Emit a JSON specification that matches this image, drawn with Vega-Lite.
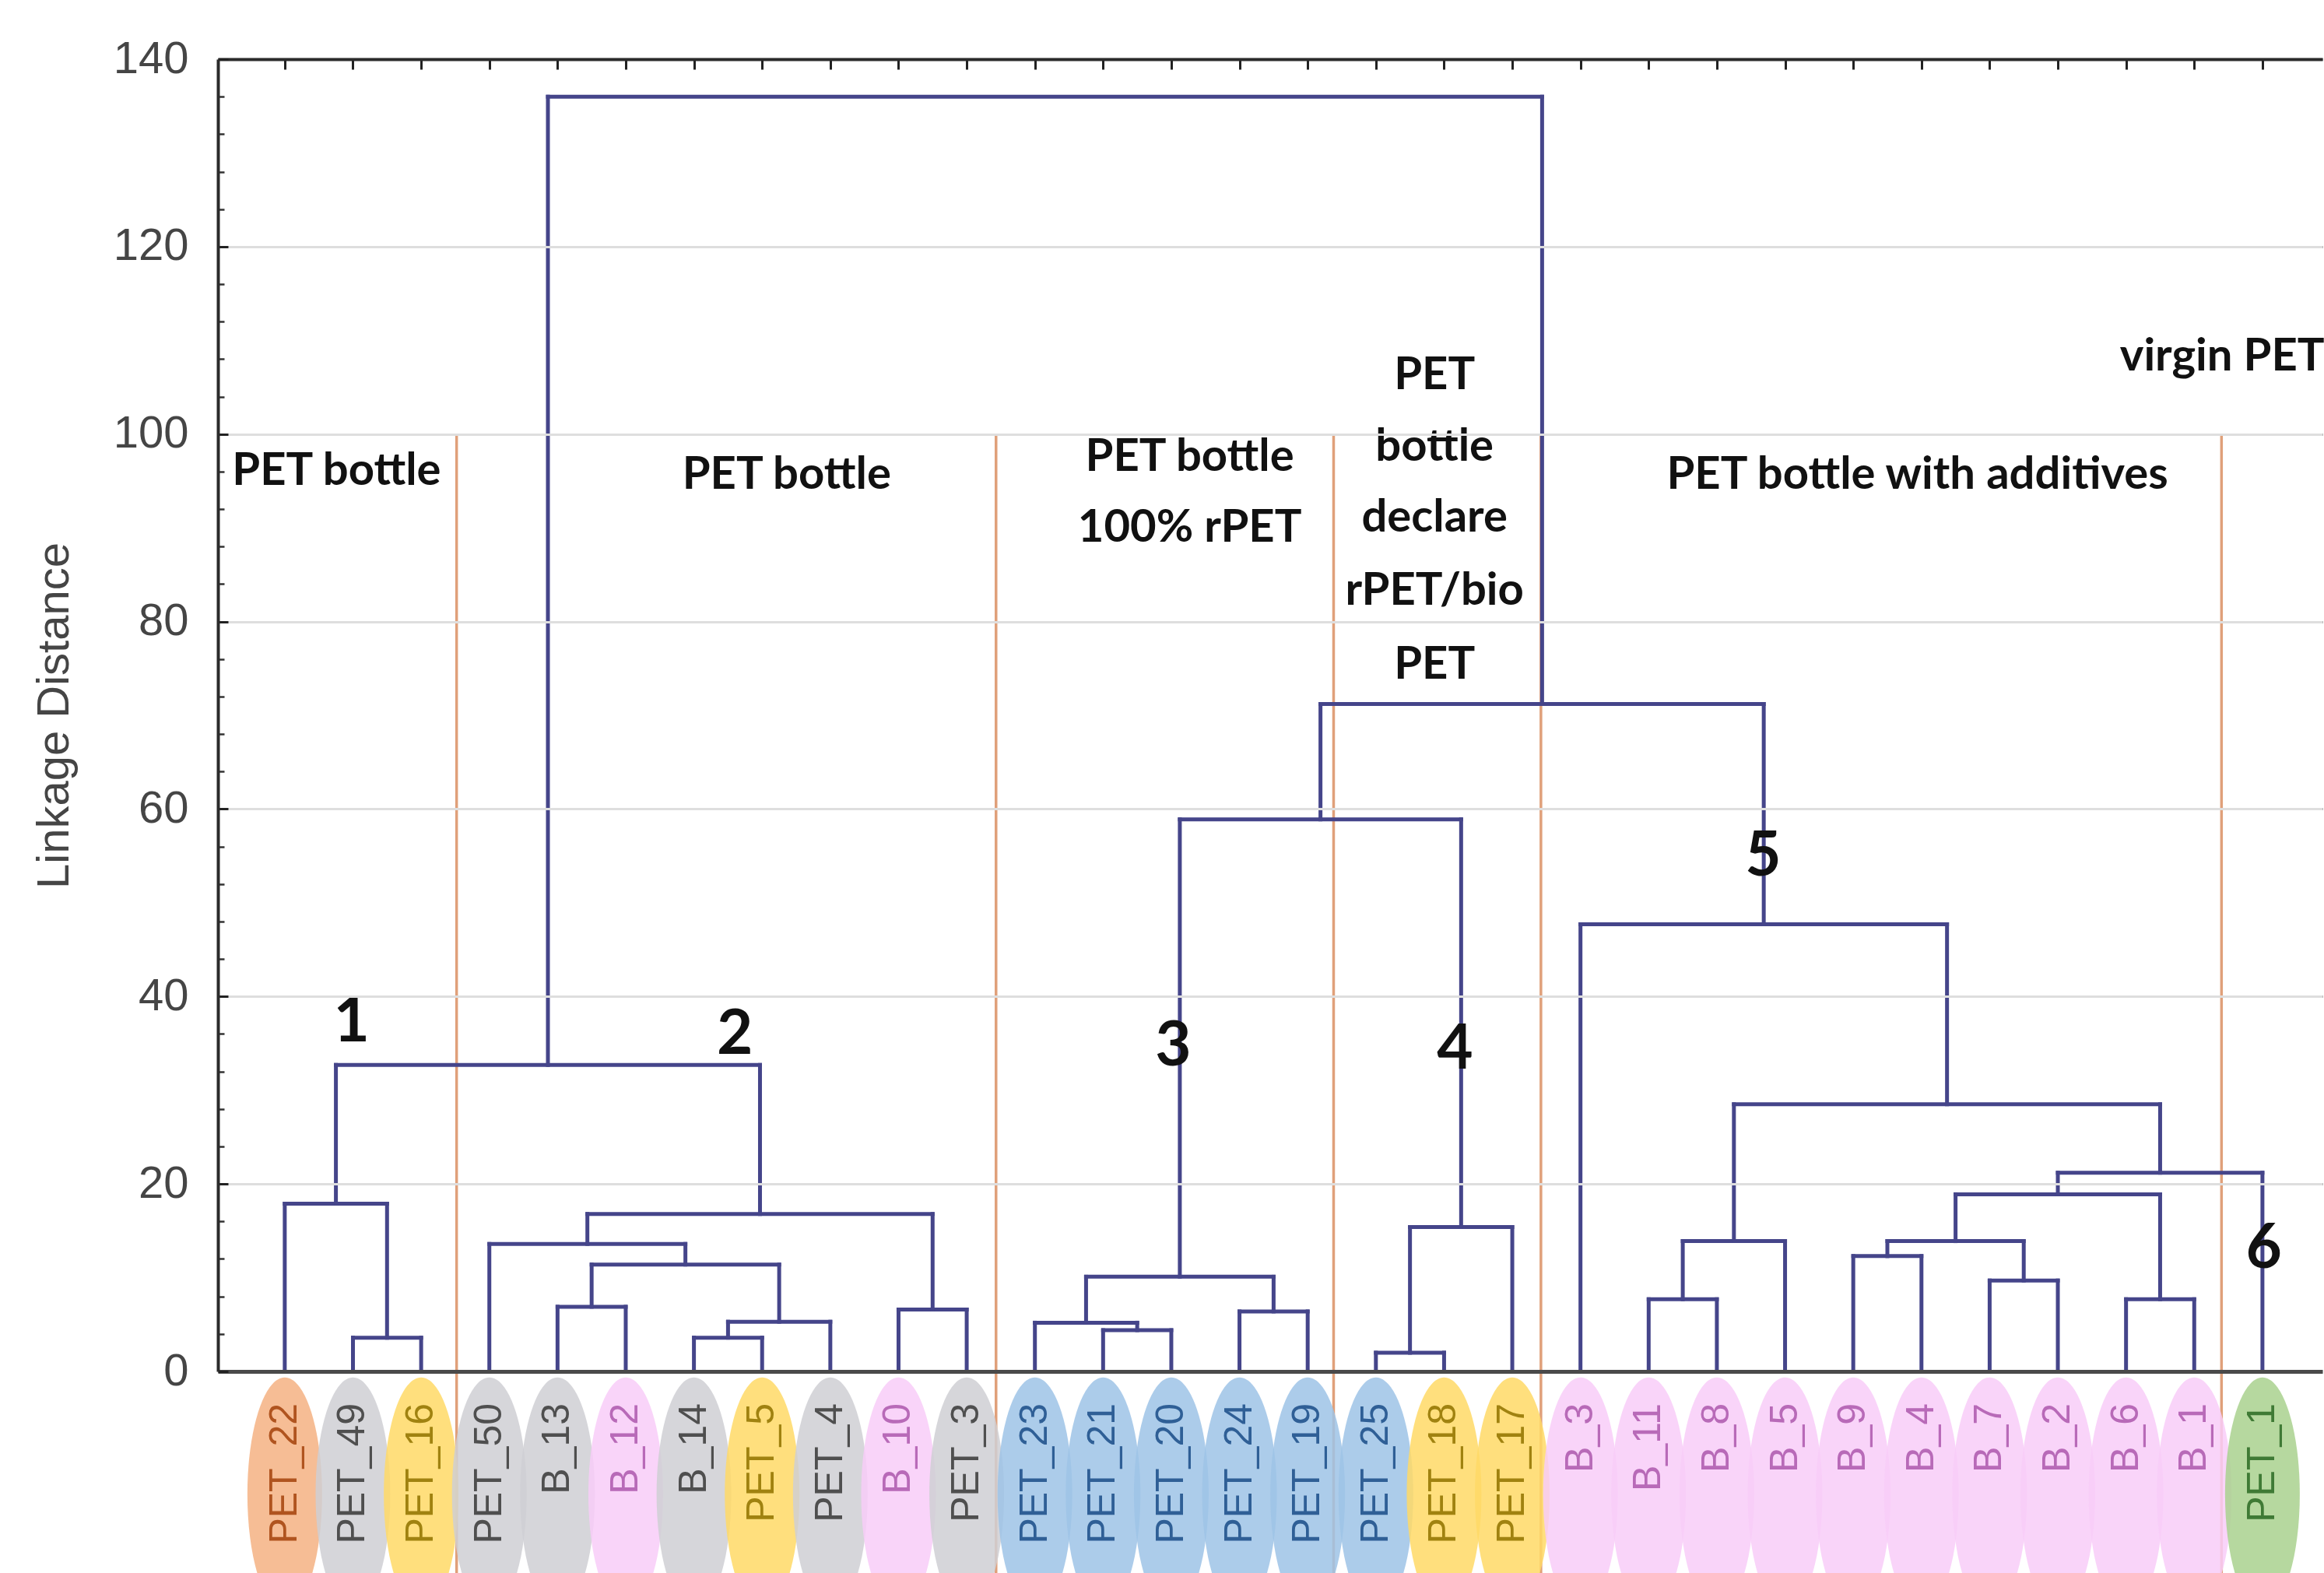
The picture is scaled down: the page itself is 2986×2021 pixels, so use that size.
{
  "$schema": "https://vega.github.io/schema/vega-lite/v6.json",
  "width": 2704,
  "height": 1686,
  "autosize": {"type": "none"},
  "padding": {"left": 280, "top": 76, "right": 2, "bottom": 259},
  "background": "white",
  "config": {"view": {"stroke": null}},
  "datasets": {
    "merges": [
      {"xl": 2, "xr": 3, "hl": 0, "hr": 0, "h": 3.6},
      {"xl": 1, "xr": 2.5, "hl": 0, "hr": 3.6, "h": 17.9},
      {"xl": 7, "xr": 8, "hl": 0, "hr": 0, "h": 3.6},
      {"xl": 7.5, "xr": 9, "hl": 3.6, "hr": 0, "h": 5.3},
      {"xl": 5, "xr": 6, "hl": 0, "hr": 0, "h": 6.9},
      {"xl": 5.5, "xr": 8.25, "hl": 6.9, "hr": 5.3, "h": 11.4},
      {"xl": 4, "xr": 6.875, "hl": 0, "hr": 11.4, "h": 13.6},
      {"xl": 10, "xr": 11, "hl": 0, "hr": 0, "h": 6.6},
      {"xl": 5.4375, "xr": 10.5, "hl": 13.6, "hr": 6.6, "h": 16.8},
      {"xl": 1.75, "xr": 7.96875, "hl": 17.9, "hr": 16.8, "h": 32.7},
      {"xl": 13, "xr": 14, "hl": 0, "hr": 0, "h": 4.4},
      {"xl": 12, "xr": 13.5, "hl": 0, "hr": 4.4, "h": 5.2},
      {"xl": 15, "xr": 16, "hl": 0, "hr": 0, "h": 6.4},
      {"xl": 12.75, "xr": 15.5, "hl": 5.2, "hr": 6.4, "h": 10.1},
      {"xl": 17, "xr": 18, "hl": 0, "hr": 0, "h": 2.0},
      {"xl": 17.5, "xr": 19, "hl": 2.0, "hr": 0, "h": 15.4},
      {"xl": 14.125, "xr": 18.25, "hl": 10.1, "hr": 15.4, "h": 58.9},
      {"xl": 21, "xr": 22, "hl": 0, "hr": 0, "h": 7.7},
      {"xl": 21.5, "xr": 23, "hl": 7.7, "hr": 0, "h": 13.9},
      {"xl": 24, "xr": 25, "hl": 0, "hr": 0, "h": 12.3},
      {"xl": 26, "xr": 27, "hl": 0, "hr": 0, "h": 9.7},
      {"xl": 24.5, "xr": 26.5, "hl": 12.3, "hr": 9.7, "h": 13.9},
      {"xl": 28, "xr": 29, "hl": 0, "hr": 0, "h": 7.7},
      {"xl": 25.5, "xr": 28.5, "hl": 13.9, "hr": 7.7, "h": 18.9},
      {"xl": 27, "xr": 30, "hl": 18.9, "hr": 0, "h": 21.2},
      {"xl": 22.25, "xr": 28.5, "hl": 13.9, "hr": 21.2, "h": 28.5},
      {"xl": 20, "xr": 25.375, "hl": 0, "hr": 28.5, "h": 47.7},
      {"xl": 16.1875, "xr": 22.6875, "hl": 58.9, "hr": 47.7, "h": 71.2},
      {"xl": 4.859, "xr": 19.4375, "hl": 32.7, "hr": 71.2, "h": 136.0}
    ],
    "leaves": [
      {"name": "PET_22", "pos": 1, "grp": "orange"},
      {"name": "PET_49", "pos": 2, "grp": "gray"},
      {"name": "PET_16", "pos": 3, "grp": "yellow"},
      {"name": "PET_50", "pos": 4, "grp": "gray"},
      {"name": "B_13", "pos": 5, "grp": "gray"},
      {"name": "B_12", "pos": 6, "grp": "pink"},
      {"name": "B_14", "pos": 7, "grp": "gray"},
      {"name": "PET_5", "pos": 8, "grp": "yellow"},
      {"name": "PET_4", "pos": 9, "grp": "gray"},
      {"name": "B_10", "pos": 10, "grp": "pink"},
      {"name": "PET_3", "pos": 11, "grp": "gray"},
      {"name": "PET_23", "pos": 12, "grp": "blue"},
      {"name": "PET_21", "pos": 13, "grp": "blue"},
      {"name": "PET_20", "pos": 14, "grp": "blue"},
      {"name": "PET_24", "pos": 15, "grp": "blue"},
      {"name": "PET_19", "pos": 16, "grp": "blue"},
      {"name": "PET_25", "pos": 17, "grp": "blue"},
      {"name": "PET_18", "pos": 18, "grp": "yellow"},
      {"name": "PET_17", "pos": 19, "grp": "yellow"},
      {"name": "B_3", "pos": 20, "grp": "pink"},
      {"name": "B_11", "pos": 21, "grp": "pink"},
      {"name": "B_8", "pos": 22, "grp": "pink"},
      {"name": "B_5", "pos": 23, "grp": "pink"},
      {"name": "B_9", "pos": 24, "grp": "pink"},
      {"name": "B_4", "pos": 25, "grp": "pink"},
      {"name": "B_7", "pos": 26, "grp": "pink"},
      {"name": "B_2", "pos": 27, "grp": "pink"},
      {"name": "B_6", "pos": 28, "grp": "pink"},
      {"name": "B_1", "pos": 29, "grp": "pink"},
      {"name": "PET_1", "pos": 30, "grp": "green"}
    ],
    "seps": [{"sx": 3.52}, {"sx": 11.43}, {"sx": 16.38}, {"sx": 19.42}, {"sx": 29.4}],
    "notes": [
      {"label": "PET bottle", "px": 1.76, "py": 96.0},
      {"label": "PET bottle", "px": 8.36, "py": 95.6},
      {"label": "PET bottle", "px": 14.27, "py": 97.5},
      {"label": "100% rPET", "px": 14.27, "py": 89.9},
      {"label": "PET", "px": 17.86, "py": 106.2},
      {"label": "bottle", "px": 17.86, "py": 98.6},
      {"label": "declare", "px": 17.86, "py": 91.0},
      {"label": "rPET/bio", "px": 17.86, "py": 83.2},
      {"label": "PET", "px": 17.86, "py": 75.3},
      {"label": "PET bottle with additives", "px": 24.94, "py": 95.6},
      {"label": "virgin PET", "px": 29.41, "py": 108.2}
    ],
    "nums": [
      {"label": "1", "px": 1.98, "py": 37.2},
      {"label": "2", "px": 7.6, "py": 35.9},
      {"label": "3", "px": 14.03, "py": 34.6},
      {"label": "4", "px": 18.16, "py": 34.3},
      {"label": "5", "px": 22.68, "py": 54.9},
      {"label": "6", "px": 30.02, "py": 13.0}
    ]
  },
  "resolve": {"axis": {"x": "independent", "y": "independent"}},
  "layer": [
    {
      "data": {"name": "seps"},
      "mark": {"type": "rule", "color": "#e0a07a", "strokeWidth": 3.5},
      "encoding": {
        "x": {
          "field": "sx", "type": "quantitative",
          "scale": {"domain": [0.02, 30.88], "nice": false, "zero": false},
          "axis": {
            "orient": "top", "values": [1,2,3,4,5,6,7,8,9,10,11,12,13,14,15,16,17,18,19,20,21,22,23,24,25,26,27,28,29,30],
            "labels": false, "tickSize": -13, "tickWidth": 3, "tickColor": "#222",
            "domainColor": "#2b2b2b", "domainWidth": 4, "grid": false, "title": null, "zindex": 1
          }
        },
        "y": {
          "datum": 100, "type": "quantitative",
          "scale": {"domain": [0, 140], "nice": false, "zero": true},
          "axis": {
            "orient": "left", "values": [0, 20, 40, 60, 80, 100, 120, 140],
            "title": "Linkage Distance", "titleFont": "Liberation Sans", "titleFontSize": 58,
            "titleFontWeight": "normal", "titleColor": "#454545", "titleX": -210, "titleY": 843,
            "titleAngle": -90, "titleAlign": "center", "titleBaseline": "middle",
            "grid": true, "gridColor": "#dedede", "gridWidth": 3,
            "tickSize": -13, "tickWidth": 3, "tickColor": "#222",
            "labelPadding": 51, "labelFont": "Liberation Sans", "labelFontSize": 58, "labelColor": "#454545",
            "domainColor": "#2b2b2b", "domainWidth": 4, "zindex": 1
          }
        },
        "y2": {"datum": -22}
      }
    },
    {
      "data": {"name": "leaves"},
      "mark": {
        "type": "point", "filled": true, "fillOpacity": 0.85, "strokeWidth": 0, "size": 90000,
        "shape": "M0,-1C0.1767,-1 0.32,-0.5523 0.32,0C0.32,0.5523 0.1767,1 0,1C-0.1767,1 -0.32,0.5523 -0.32,0C-0.32,-0.5523 -0.1767,-1 0,-1Z"
      },
      "encoding": {
        "x": {"field": "pos", "type": "quantitative", "scale": {"domain": [0.02, 30.88], "nice": false, "zero": false}, "axis": null},
        "y": {"datum": -13.1, "type": "quantitative", "scale": {"domain": [0, 140], "nice": false, "zero": true}, "axis": null},
        "fill": {
          "field": "grp", "type": "nominal", "legend": null,
          "scale": {"domain": ["orange", "gray", "yellow", "pink", "blue", "green"],
                    "range": ["#f4b183", "#cfcfd3", "#ffd966", "#f8cdf8", "#9dc3e6", "#a9d18e"]}
        }
      }
    },
    {
      "data": {"name": "leaves"},
      "mark": {"type": "text", "angle": 270, "align": "right", "baseline": "middle", "font": "Liberation Sans", "fontSize": 50},
      "encoding": {
        "x": {"field": "pos", "type": "quantitative", "scale": {"domain": [0.02, 30.88], "nice": false, "zero": false}, "axis": null},
        "y": {"datum": -3.4, "type": "quantitative", "scale": {"domain": [0, 140], "nice": false, "zero": true}, "axis": null},
        "text": {"field": "name", "type": "nominal"},
        "color": {
          "field": "grp", "type": "nominal", "legend": null,
          "scale": {"domain": ["orange", "gray", "yellow", "pink", "blue", "green"],
                    "range": ["#b0541f", "#4f4f4f", "#a08210", "#b86ab8", "#2f5f96", "#3f7a35"]}
        }
      }
    },
    {
      "data": {"name": "merges"},
      "mark": {"type": "rule", "color": "#45458a", "strokeWidth": 5, "strokeCap": "square"},
      "encoding": {
        "x": {
          "field": "xl", "type": "quantitative",
          "scale": {"domain": [0.02, 30.88], "nice": false, "zero": false},
          "axis": {"orient": "bottom", "labels": false, "ticks": false, "grid": false, "title": null,
                   "domainColor": "#4a4a4a", "domainWidth": 5, "zindex": 1}
        },
        "x2": {"field": "xr"},
        "y": {
          "field": "h", "type": "quantitative",
          "scale": {"domain": [0, 140], "nice": false, "zero": true},
          "axis": {"orient": "right", "values": [20, 40, 60, 80, 100, 120, 140], "labels": false,
                   "tickSize": -12, "tickWidth": 3, "tickColor": "#333", "domain": false, "grid": false, "title": null}
        }
      }
    },
    {
      "data": {"name": "merges"},
      "mark": {"type": "rule", "color": "#45458a", "strokeWidth": 5, "strokeCap": "square"},
      "encoding": {
        "x": {"field": "xl", "type": "quantitative", "scale": {"domain": [0.02, 30.88], "nice": false, "zero": false}, "axis": null},
        "y": {"field": "hl", "type": "quantitative", "scale": {"domain": [0, 140], "nice": false, "zero": true}, "axis": null},
        "y2": {"field": "h"}
      }
    },
    {
      "data": {"name": "merges"},
      "mark": {"type": "rule", "color": "#45458a", "strokeWidth": 5, "strokeCap": "square"},
      "encoding": {
        "x": {"field": "xr", "type": "quantitative", "scale": {"domain": [0.02, 30.88], "nice": false, "zero": false}, "axis": null},
        "y": {"field": "hr", "type": "quantitative", "scale": {"domain": [0, 140], "nice": false, "zero": true}, "axis": null},
        "y2": {"field": "h"}
      }
    },
    {
      "data": {"name": "notes"},
      "mark": {"type": "text", "align": "center", "baseline": "middle", "font": "Lato", "fontWeight": "bold", "fontSize": 58, "color": "#111111"},
      "encoding": {
        "x": {"field": "px", "type": "quantitative", "scale": {"domain": [0.02, 30.88], "nice": false, "zero": false}, "axis": null},
        "y": {
          "field": "py", "type": "quantitative",
          "scale": {"domain": [0, 140], "nice": false, "zero": true},
          "axis": {"orient": "left", "values": [4,8,12,16,24,28,32,36,44,48,52,56,64,68,72,76,84,88,92,96,104,108,112,116,124,128,132,136],
                   "labels": false, "tickSize": -8, "tickWidth": 2.5, "tickColor": "#333", "domain": false, "grid": false, "title": null}
        },
        "text": {"field": "label", "type": "nominal"}
      }
    },
    {
      "data": {"name": "nums"},
      "mark": {"type": "text", "align": "center", "baseline": "middle", "font": "Lato", "fontWeight": "bold", "fontSize": 80, "color": "#111111"},
      "encoding": {
        "x": {"field": "px", "type": "quantitative", "scale": {"domain": [0.02, 30.88], "nice": false, "zero": false}, "axis": null},
        "y": {"field": "py", "type": "quantitative", "scale": {"domain": [0, 140], "nice": false, "zero": true}, "axis": null},
        "text": {"field": "label", "type": "nominal"}
      }
    }
  ]
}
